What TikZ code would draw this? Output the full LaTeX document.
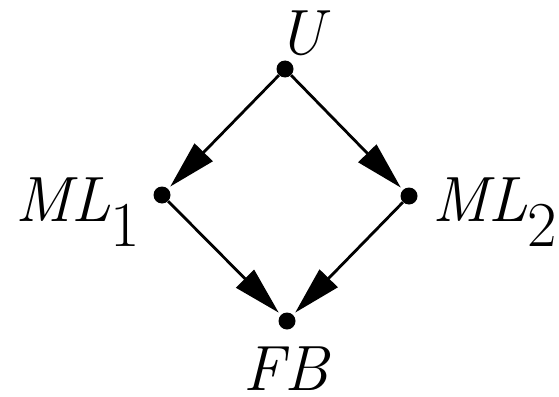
\documentclass[tikz,border=0pt]{standalone}
\usepackage{fontspec}
\usetikzlibrary{arrows.meta}
\begin{document}
\begin{tikzpicture}[x=1pt,y=-1pt,
  dotnode/.style={circle,fill=black,inner sep=0pt,minimum size=17pt},
  lbl/.style={anchor=base west,inner sep=0pt,font=\fontsize{64}{77}\selectfont},
  edge/.style={line width=2.8pt,shorten >=3pt,-{Triangle[length=48pt,width=25pt]}}]
\useasboundingbox (0,0) rectangle (559,396);
\node[dotnode] (u) at (285,69) {};
\node[dotnode] (ml1) at (162,195) {};
\node[dotnode] (ml2) at (409,196) {};
\node[dotnode] (fb) at (287,321) {};
\node[lbl] (lu) at (277,55) {\itshape U};
\node[lbl] (lml1) at (15,221) {\itshape ML\upshape\raisebox{-25pt}{1}};
\node[lbl] (lml2) at (432,221) {\itshape ML\upshape\raisebox{-25pt}{2}};
\node[lbl] (lfb) at (243,390) {\itshape FB};
\draw[edge] (u) -- (ml1);
\draw[edge] (u) -- (ml2);
\draw[edge] (ml1) -- (fb);
\draw[edge] (ml2) -- (fb);
\end{tikzpicture}
\end{document}
